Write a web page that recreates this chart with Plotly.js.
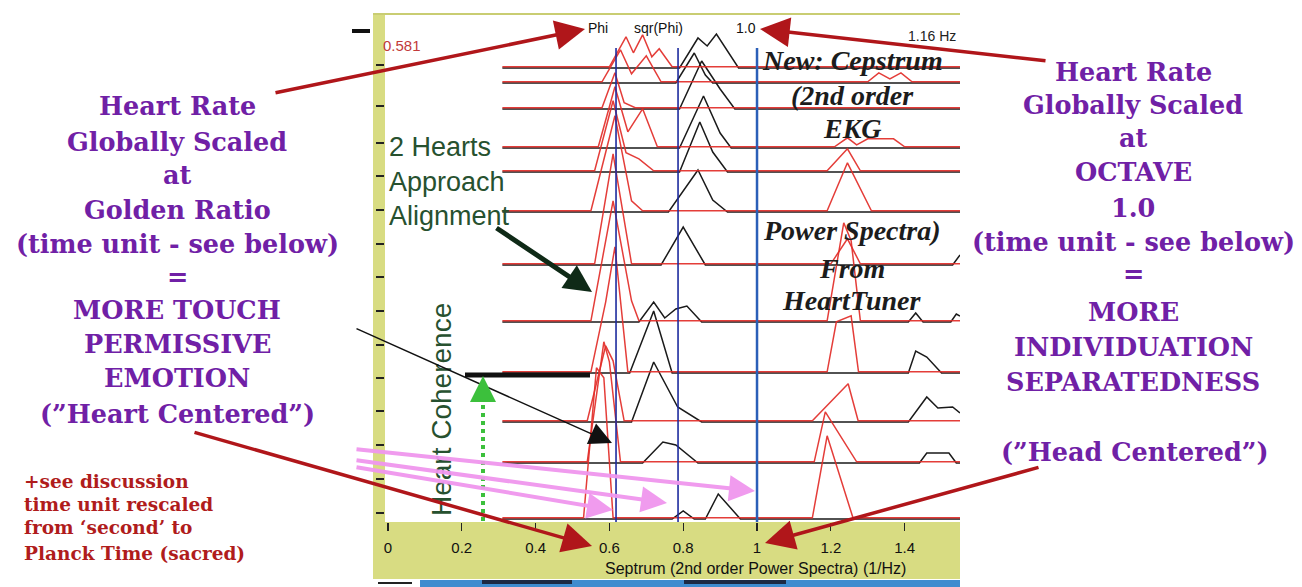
<!DOCTYPE html>
<html><head><meta charset="utf-8">
<script src="https://cdn.plot.ly/plotly-3.0.1.min.js"></script>
<style>html,body{margin:0;padding:0;background:#fff;}#chart{width:1302px;height:587px;}</style>
</head><body><div id="chart"></div>
<script>
// ---- data ----
const xTickVals = [0, 0.2, 0.4, 0.6, 0.8, 1, 1.2, 1.4];
const xTickText = ['0', '0.2', '0.4', '0.6', '0.8', '1', '1.2', '1.4'];
const refLines = [0.618, 0.786, 1.0];
const refLabels = ['Phi', 'sqr(Phi)', '1.0'];
const xStart = 0.31, xEnd = 1.55;
const rowBase = [454, 439, 413, 374, 350, 310, 257, 200, 149, 100, 59, 3];
const sideTicks = [457, 416, 379, 346, 312, 278, 245, 211, 177, 144, 111, 77, 43, 9];
const blackPeaks = [
  [[0.79,0],[0.84,30],[0.865,22],[0.89,34],[0.95,0]],
  [[0.78,0],[0.83,30],[0.86,8],[0.88,0]],
  [[0.79,0],[0.85,48],[0.90,20],[0.94,0]],
  [[0.79,0],[0.855,52],[0.90,15],[0.93,0]],
  [[0.79,0],[0.845,50],[0.88,20],[0.92,0]],
  [[0.76,0],[0.84,42],[0.88,12],[0.92,0]],
  [[0.74,0],[0.80,38],[0.86,0],[1.53,0],[1.55,10]],
  [[0.68,0],[0.72,20],[0.75,4],[0.78,13],[0.81,16],[0.85,0],[1.41,0],[1.43,9],[1.45,0],[1.525,0],[1.54,8],[1.55,6]],
  [[0.655,0],[0.72,62],[0.77,0],[1.41,0],[1.43,22],[1.46,16],[1.50,0]],
  [[0.66,0],[0.72,60],[0.785,15],[0.85,0],[1.41,0],[1.46,25],[1.49,14],[1.53,15],[1.55,9]],
  [[0.69,0],[0.745,21],[0.78,18],[0.84,0],[1.44,0],[1.46,10],[1.52,10],[1.54,0]],
  [[0.77,0],[0.80,8],[0.83,0],[0.86,0],[0.895,25],[0.955,0]]
];
const redPeaks = [
  [[0.60,0],[0.645,30],[0.665,14],[0.69,32],[0.715,10],[0.735,18],[0.77,0]],
  [[0.58,0],[0.63,32],[0.66,8],[0.70,26],[0.74,0],[1.30,0],[1.33,9],[1.36,3],[1.39,9],[1.42,0]],
  [[0.58,0],[0.615,35],[0.64,5],[0.67,0]],
  [[0.57,0],[0.615,60],[0.65,15],[0.69,38],[0.73,0],[1.21,0],[1.245,9],[1.27,2],[1.30,8],[1.37,8],[1.40,0]],
  [[0.56,0],[0.61,70],[0.645,18],[0.68,12],[0.72,0],[1.19,0],[1.245,22],[1.28,0]],
  [[0.55,0],[0.615,95],[0.66,10],[0.69,0],[1.19,0],[1.245,48],[1.27,30],[1.31,0]],
  [[0.56,0],[0.61,110],[0.66,0],[1.20,0],[1.245,25],[1.28,0]],
  [[0.55,0],[0.61,120],[0.66,20],[0.68,0],[1.19,0],[1.235,98],[1.255,80],[1.28,0]],
  [[0.55,0],[0.59,70],[0.615,125],[0.65,0],[1.19,0],[1.215,50],[1.255,56],[1.275,0]],
  [[0.54,0],[0.59,75],[0.61,60],[0.64,0],[1.15,0],[1.247,37],[1.274,0]],
  [[0.54,0],[0.585,120],[0.60,100],[0.63,0],[1.155,0],[1.185,50],[1.27,0]],
  [[0.53,0],[0.565,150],[0.585,140],[0.61,0],[1.15,0],[1.19,82],[1.26,0]]
];
const leftLines = ['Heart Rate','Globally Scaled','at','Golden Ratio','(time unit - see below)','=','MORE TOUCH','PERMISSIVE','EMOTION','(”Heart Centered”)'];
const leftLineY = [106,142,175,210,244,277,310,344,378,414];
const rightLines = ['Heart Rate','Globally Scaled','at','OCTAVE','1.0','(time unit - see below)','=','MORE','INDIVIDUATION','SEPARATEDNESS'];
const rightLineY = [72,105,138,172,208,242,274,312,347,382];
const noteLines = ['+see discussion','time unit rescaled','from ‘second’ to','Planck Time (sacred)'];
const noteLineY = [481,504,527,553];
const cepLines = ['New: Cepstrum','(2nd order','EKG','Power Spectra)','From','HeartTuner'];
const cepLineY = [61,95,128,230,268,300];
const greenLines = ['2 Hearts','Approach','Alignment'];
const greenLineY = [147,182,216];

// ---- geometry helpers (page pixels -> paper) ----
const L = 385, R = 960, T = 14, B = 522;
const px = v => (v - L) / (R - L);
const py = v => (B - v) / (B - T);

function rowTrace(peaks, base, color, off, width) {
  const xs = [xStart], ys = [base + off];
  peaks.forEach(p => { xs.push(p[0]); ys.push(base + off + p[1]); });
  if (xs[xs.length - 1] < xEnd) { xs.push(xEnd); ys.push(base + off); }
  return {x: xs, y: ys, type: 'scatter', mode: 'lines', hoverinfo: 'skip',
          line: {color: color, width: width}, cliponaxis: true};
}
const traces = [];
rowBase.forEach((b, i) => traces.push(rowTrace(blackPeaks[i], b, '#1a1a1a', 0, 1.5)));
rowBase.forEach((b, i) => traces.push(rowTrace(redPeaks[i], b, 'rgba(226,45,40,0.92)', 1.2, 1.5)));

const YEL = '#d8dc82';
const shapes = [
  {type:'rect', xref:'paper', yref:'paper', layer:'below', x0:px(373), x1:px(960), y0:py(522), y1:py(579), fillcolor:YEL, line:{width:0}},
  {type:'rect', xref:'paper', yref:'paper', layer:'below', x0:px(373), x1:px(385), y0:py(579), y1:py(13), fillcolor:YEL, line:{width:0}},
  {type:'line', xref:'paper', yref:'paper', x0:px(373), x1:px(960), y0:py(14), y1:py(14), line:{color:'#c9cd72', width:2}},
  {type:'rect', xref:'paper', yref:'paper', x0:px(420), x1:px(960), y0:py(587), y1:py(580), fillcolor:'#3f8ccf', line:{width:0}},
  {type:'rect', xref:'paper', yref:'paper', x0:px(482), x1:px(572), y0:py(584), y1:py(580), fillcolor:'#1d2a44', line:{width:0}},
  {type:'rect', xref:'paper', yref:'paper', x0:px(684), x1:px(786), y0:py(584), y1:py(580), fillcolor:'#1d2a44', line:{width:0}},
  {type:'line', xref:'paper', yref:'paper', x0:px(378), x1:px(412), y0:py(583), y1:py(583), line:{color:'#222', width:2}},
  {type:'rect', xref:'paper', yref:'paper', x0:px(352), x1:px(370), y0:py(33), y1:py(29), fillcolor:'#111', line:{width:0}},
  // heart coherence level bar
  {type:'line', xref:'paper', yref:'paper', x0:px(465), x1:px(590), y0:py(375), y1:py(375), line:{color:'#111', width:5}},
  // green dotted shaft
  {type:'line', xref:'paper', yref:'paper', x0:px(483), x1:px(483), y0:py(521), y1:py(392), line:{color:'#3cc03c', width:4, dash:'dot'}}
];
refLines.forEach((v, i) => {
  shapes.push({type:'line', xref:'x', yref:'y', x0:v, x1:v, y0:0, y1:474,
    line:{color: i === 2 ? '#2b5fb8' : '#1d2b9e', width: i === 2 ? 2.5 : 1.6}});
});

const ann = [];
function txt(t, x, y, o) { ann.push(Object.assign({text:t, x:px(x), y:py(y), xref:'paper', yref:'paper', showarrow:false, xanchor:'center', yanchor:'middle'}, o)); }
function arrow(x0, y0, x1, y1, color, width, head, size) {
  ann.push({text:'', x:px(x1), y:py(y1), xref:'paper', yref:'paper', ax:x0 - x1, ay:y0 - y1,
    axref:'pixel', ayref:'pixel', showarrow:true, arrowhead:head, arrowsize:size, arrowwidth:width,
    arrowcolor:color, standoff:0, startstandoff:0});
}
const PURPLE = '#7020a6';
const purpleFont = {family:'DejaVu Serif', size:25.5, weight:'bold', color:PURPLE};
leftLines.forEach((t, i) => txt(t, 177, leftLineY[i], {font:purpleFont}));
rightLines.forEach((t, i) => txt(t, 1133, rightLineY[i], {font:purpleFont}));
txt('(”Head Centered”)', 1135, 452, {font:purpleFont});
noteLines.forEach((t, i) => txt(t, 22, noteLineY[i], {xanchor:'left', font:{family:'DejaVu Serif', size:18.5, weight:'bold', color:'#b01c1c'}}));
cepLines.forEach((t, i) => txt(t, 852, cepLineY[i], {font:{family:'Liberation Serif', size:28, weight:'bold', style:'italic', color:'#1c1c1c'}}));
greenLines.forEach((t, i) => txt(t, 387, greenLineY[i], {xanchor:'left', font:{family:'Liberation Sans', size:27, color:'#27512f'}}));
txt('Heart Coherence', 441, 410, {textangle:-90, font:{family:'Liberation Sans', size:28, color:'#27512f'}});
const refShift = [-18, -20, -11];
refLabels.forEach((t, i) => ann.push({text:t, x:refLines[i], y:py(28), xref:'x', yref:'paper', xshift:refShift[i], showarrow:false,
  xanchor:'center', yanchor:'middle', font:{family:'Liberation Sans', size:14, color:'#111'}}));
txt('0.581', 381, 45, {xanchor:'left', font:{family:'Liberation Sans', size:15, color:'#c23a3a'}});
txt('1.16 Hz', 932, 36, {font:{family:'Liberation Sans', size:14, color:'#222'}});
txt('Septrum (2nd order Power Spectra) (1/Hz)', 755, 568, {font:{family:'Liberation Sans', size:16, color:'#111'}});

// arrows
const RED = '#b0161a';
arrow(274, 93, 585, 29, RED, 3.5, 2, 1.7);
arrow(1047, 61, 760, 29, RED, 3.5, 2, 1.7);
arrow(193, 432, 592, 546, RED, 3.5, 2, 1.7);
arrow(1040, 467, 765, 543, RED, 3.5, 2, 1.7);
const PINK = 'rgba(240,150,238,0.95)';
arrow(355, 449, 755, 491, PINK, 4, 2, 1.3);
arrow(355, 460, 667, 503, PINK, 4, 2, 1.3);
arrow(355, 467, 613, 510, PINK, 4, 2, 1.3);
arrow(495, 227, 592, 292, '#0f2a17', 5, 2, 1.1);
arrow(355, 328, 612, 443, '#111', 1.5, 2, 3);
arrow(483, 400, 483, 376, '#3cc03c', 4, 2, 1.3);

const layout = {
  width: 1302, height: 587,
  margin: {l: L, r: 1302 - R, t: T, b: 587 - B, pad: 0},
  paper_bgcolor: '#ffffff', plot_bgcolor: '#ffffff',
  showlegend: false,
  xaxis: {range: [-0.008, 1.55], showgrid: false, zeroline: false, showline: false,
    tickmode: 'array', tickvals: xTickVals, ticktext: xTickText, ticks: 'outside', ticklen: 8,
    tickwidth: 1.2, tickcolor: '#222', ticklabelstandoff: 4,
    tickfont: {family: 'Liberation Sans', size: 15, color: '#111'}},
  yaxis: {range: [0, 508], showgrid: false, zeroline: false, showline: false,
    tickmode: 'array', tickvals: sideTicks, ticks: 'outside', ticklen: 8, tickwidth: 1.5,
    tickcolor: '#222', showticklabels: false},
  shapes: shapes,
  annotations: ann
};
Plotly.newPlot('chart', traces, layout, {staticPlot: true, displayModeBar: false});
</script></body></html>
